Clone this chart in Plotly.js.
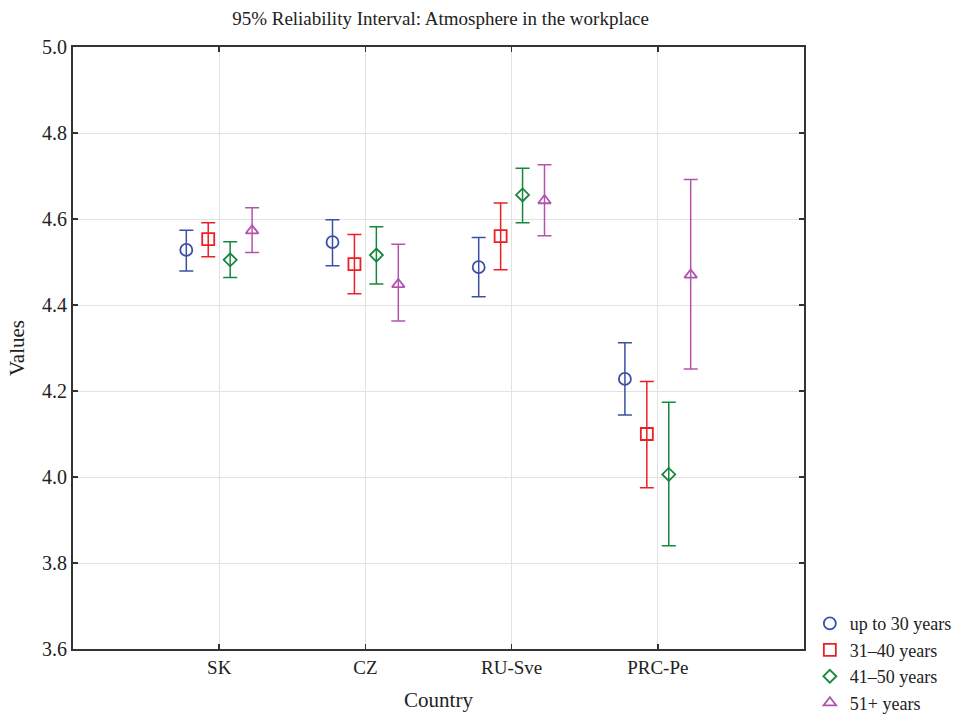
<!DOCTYPE html>
<html>
<head>
<meta charset="utf-8">
<script src="https://cdn.plot.ly/plotly-3.0.1.min.js"></script>
<style>html,body{margin:0;padding:0;background:#fff;}#chart{width:979px;height:714px;}</style>
</head>
<body>
<div id="chart"></div>
<script>
const categories = ["SK", "CZ", "RU-Sve", "PRC-Pe"];
const seriesNames = ["up to 30 years", "31\u201340 years", "41\u201350 years", "51+ years"];

const meanUpTo30 = [4.528, 4.546, 4.488, 4.228];
const lowUpTo30  = [4.479, 4.491, 4.419, 4.144];
const highUpTo30 = [4.574, 4.598, 4.557, 4.312];

const mean31to40 = [4.553, 4.495, 4.560, 4.100];
const low31to40  = [4.512, 4.426, 4.482, 3.975];
const high31to40 = [4.591, 4.564, 4.637, 4.222];

const mean41to50 = [4.505, 4.516, 4.656, 4.006];
const low41to50  = [4.464, 4.449, 4.591, 3.840];
const high41to50 = [4.547, 4.582, 4.718, 4.174];

const mean51plus = [4.573, 4.448, 4.643, 4.470];
const low51plus  = [4.522, 4.363, 4.561, 4.251];
const high51plus = [4.626, 4.541, 4.726, 4.692];

const groups = [
  {mean: meanUpTo30, low: lowUpTo30, high: highUpTo30},
  {mean: mean31to40, low: low31to40, high: high31to40},
  {mean: mean41to50, low: low41to50, high: high41to50},
  {mean: mean51plus, low: low51plus, high: high51plus}
];

const colors = ["#3b4fa6", "#ec1f26", "#17873d", "#b254ad"];
const symbols = ["circle-open", "square-open", "diamond-open", "triangle-up-open"];
const sizes = [12, 12, 10, 11];
const offsets = [-0.225, -0.075, 0.075, 0.225];
const catPos = categories.map((c, i) => i + 1);

const traces = groups.map((g, k) => ({
  type: "scatter",
  mode: "markers",
  name: seriesNames[k],
  x: catPos.map(p => p + offsets[k]),
  y: g.mean,
  marker: {symbol: symbols[k], size: sizes[k], color: colors[k], line: {width: 1.8, color: colors[k]}},
  error_y: {
    type: "data", symmetric: false,
    array: g.high.map((h, i) => h - g.mean[i]),
    arrayminus: g.mean.map((m, i) => m - g.low[i]),
    color: colors[k], thickness: 1.5, width: 7
  },
  hoverinfo: "x+y"
}));

const serif = "Liberation Serif, Times New Roman, serif";

const layout = {
  width: 979, height: 714,
  margin: {l: 73, r: 175, t: 47, b: 65, autoexpand: false},
  paper_bgcolor: "#ffffff", plot_bgcolor: "#ffffff",
  title: {text: "95% Reliability Interval: Atmosphere in the workplace", x: 0.45, xanchor: "center", y: 0.975, yanchor: "middle", font: {family: serif, size: 19, color: "#222"}},
  font: {family: serif, color: "#222"},
  xaxis: {
    range: [0, 5], tickmode: "array", tickvals: catPos, ticktext: categories,
    showgrid: true, gridcolor: "#e2e2e2", gridwidth: 1,
    zeroline: false, showline: true, linecolor: "#333", linewidth: 2, mirror: "ticks",
    ticks: "inside", ticklen: 5, tickcolor: "#333", tickwidth: 1.5,
    tickfont: {family: serif, size: 19, color: "#222"},
    title: {text: "Country", font: {family: serif, size: 21, color: "#222"}, standoff: 16}
  },
  yaxis: {
    range: [3.6, 5.0], tickmode: "array", tickvals: [3.6, 3.8, 4.0, 4.2, 4.4, 4.6, 4.8, 5.0],
    ticktext: ["3.6", "3.8", "4.0", "4.2", "4.4", "4.6", "4.8", "5.0"],
    showgrid: true, gridcolor: "#e2e2e2", gridwidth: 1,
    zeroline: false, showline: true, linecolor: "#333", linewidth: 2, mirror: "ticks",
    ticks: "inside", ticklen: 5, tickcolor: "#333", tickwidth: 1.5,
    tickfont: {family: serif, size: 20, color: "#222"},
    title: {text: "Values", font: {family: serif, size: 21, color: "#222"}, standoff: 12}
  },
  showlegend: true,
  legend: {
    x: 1.008, xanchor: "left", y: -0.12, yanchor: "bottom",
    font: {family: serif, size: 18, color: "#222"},
    bgcolor: "rgba(0,0,0,0)", tracegroupgap: 0, itemwidth: 30
  }
};

Plotly.newPlot("chart", traces, layout, {displayModeBar: false, staticPlot: true});
</script>
</body>
</html>
